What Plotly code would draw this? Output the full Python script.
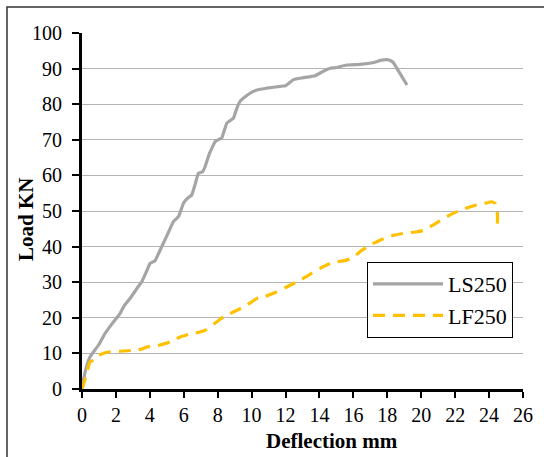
import plotly.graph_objects as go

# Load–deflection curves (deflection in mm, load in kN)
ls250_defl = [0, 0.08, 0.25, 0.47, 0.67, 1.0, 1.36, 1.8, 2.24, 2.5, 2.83, 3.23, 3.52, 3.8,
              4.01, 4.3, 4.70, 5.0, 5.39, 5.7, 5.98, 6.2, 6.47, 6.7, 6.86, 7.1, 7.26, 7.5,
              7.85, 8.1, 8.24, 8.54, 8.93, 9.1, 9.32, 9.6, 10.1, 10.5, 10.9, 11.68, 12.0,
              12.47, 13.0, 13.75, 14.2, 14.63, 15.0, 15.6, 16.4, 17.19, 17.6, 17.98, 18.2,
              18.37, 18.7, 19.16]
ls250_load = [0, 2.4, 6, 9, 10.4, 12.5, 15.6, 18.5, 21.2, 23.5, 25.4, 28.2, 30.1, 33,
              35.3, 36, 40, 43, 47, 48.5, 52.2, 53.5, 54.5, 58, 60.6, 61, 62.5, 66,
              69.5, 70.2, 70.5, 74.7, 76.1, 78.5, 80.8, 82, 83.6, 84.2, 84.5, 85, 85.2,
              86.9, 87.4, 88, 89.2, 90.1, 90.3, 91, 91.2, 91.7, 92.3, 92.5, 92.2,
              91.6, 89, 85.4]

lf250_defl = [0, 0.1, 0.25, 0.47, 0.77, 1.0, 1.55, 2.24, 3.13, 3.5, 3.82, 4.4, 5.19, 5.78,
              6.4, 6.96, 7.3, 7.95, 8.34, 9.13, 9.7, 10.3, 10.8, 11.49, 12.0, 12.67, 13.3,
              14.04, 14.5, 15.03, 15.6, 16.0, 16.4, 17.0, 17.58, 18.37, 19.07, 19.66, 20.1,
              20.53, 21.1, 21.7, 22.3, 22.9, 23.4, 23.88, 24.15, 24.35, 24.47, 24.5, 24.47]
lf250_load = [0, 1.5, 4, 7.6, 8.3, 9.5, 10.4, 10.6, 10.9, 11.2, 11.8, 12.1, 13.2, 14.6,
              15.5, 16, 16.6, 18.9, 20.3, 22.1, 23.5, 25.4, 26, 27.3, 28.5, 30.1, 31.8,
              33.9, 35, 35.7, 36.2, 37, 38.6, 40.5, 41.8, 43.2, 43.8, 44.1, 44.5,
              45.6, 47.2, 48.9, 50.2, 51.2, 51.9, 52.3, 52.6, 52.2, 50.3, 48, 44.7]

x_ticks = list(range(0, 27, 2))
y_ticks = list(range(0, 101, 10))

FONT = "'Liberation Serif', 'Times New Roman', serif"

fig = go.Figure()
fig.add_trace(go.Scatter(
    x=ls250_defl, y=ls250_load, mode="lines", name="LS250", legendgroup="a",
    line=dict(color="#A5A5A5", width=3.2, shape="spline", smoothing=0.3),
))
fig.add_trace(go.Scatter(
    x=lf250_defl, y=lf250_load, mode="lines", name="LF250", legendgroup="b",
    line=dict(color="#FFC000", width=3.2, dash="12px,8px", shape="spline", smoothing=0.3),
))

W, H = 544, 457
L, R, T, B = 82, 21, 33, 68
pw, ph = W - L - R, H - T - B


def px_x(p):
    return (p - L) / pw


def px_y(p):
    return (H - B - p) / ph


fig.update_layout(
    width=W, height=H,
    margin=dict(l=L, r=R, t=T, b=B),
    paper_bgcolor="white", plot_bgcolor="white",
    font=dict(family=FONT, size=20, color="black"),
    showlegend=True,
    legend=dict(
        x=px_x(367), y=px_y(262), xanchor="left", yanchor="top",
        bgcolor="white", bordercolor="black", borderwidth=1,
        font=dict(family=FONT, size=22, color="black"),
        itemwidth=70, tracegroupgap=0,
    ),
    xaxis=dict(
        range=[0, 26], tickvals=x_ticks, ticktext=[str(v) for v in x_ticks],
        showgrid=False, zeroline=False,
        showline=True, linecolor="black", linewidth=3,
        ticks="outside", ticklen=6, tickwidth=2, tickcolor="black",
        tickfont=dict(family=FONT, size=20), ticklabelstandoff=0,
    ),
    yaxis=dict(
        range=[0, 100], tickvals=y_ticks, ticktext=[str(v) for v in y_ticks],
        showgrid=True, gridcolor="#B3B3B3", gridwidth=1, zeroline=False,
        showline=True, linecolor="black", linewidth=3,
        ticks="outside", ticklen=7, tickwidth=2, tickcolor="black",
        tickfont=dict(family=FONT, size=20), ticklabelstandoff=6,
    ),
    annotations=[
        dict(text="<b>Deflection mm</b>", xref="paper", yref="paper",
             x=px_x(332), y=px_y(441), xanchor="center", yanchor="middle",
             showarrow=False, font=dict(family=FONT, size=21, color="black")),
        dict(text="<b>Load KN</b>", xref="paper", yref="paper", textangle=-90,
             x=px_x(26), y=px_y(220), xanchor="center", yanchor="middle",
             showarrow=False, font=dict(family=FONT, size=21, color="black")),
    ],
    shapes=[
        dict(type="rect", xref="paper", yref="paper",
             x0=px_x(7), x1=px_x(580), y0=px_y(7), y1=px_y(500),
             line=dict(color="#333333", width=1.5), fillcolor="rgba(0,0,0,0)",
             layer="below"),
    ],
)

fig.write_html("out.html")
